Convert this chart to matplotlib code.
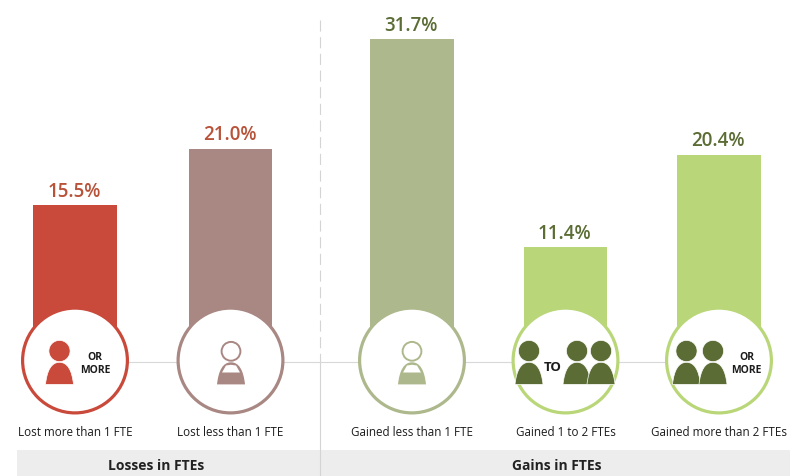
import matplotlib
matplotlib.use('Agg')
import matplotlib.pyplot as plt
from matplotlib.patches import Circle, PathPatch, Polygon, Rectangle
from matplotlib.path import Path

labels = ["Lost more than 1 FTE", "Lost less than 1 FTE", "Gained less than 1 FTE",
          "Gained 1 to 2 FTEs", "Gained more than 2 FTEs"]
values = [15.5, 21.0, 31.7, 11.4, 20.4]
value_text = ["15.5%", "21.0%", "31.7%", "11.4%", "20.4%"]
group_labels = ["Losses in FTEs", "Gains in FTEs"]

bar_colors = ["#c94a3b", "#a98884", "#adb88c", "#b9d778", "#b9d778"]
text_colors = ["#b8533a", "#b8533a", "#5b6d35", "#5b6d35", "#5b6d35"]
x_pos = [75, 230.5, 412, 565.5, 719]

DARK_GREEN = "#5b6d35"
W, H = 808, 476
Y0 = 364        # px height of value 0
PX_PER_PCT = 10.25

plt.rcParams['font.family'] = ['Open Sans', 'DejaVu Sans']
fig = plt.figure(figsize=(W / 100, H / 100), dpi=100)

# 막대용 축: x는 픽셀, y는 퍼센트 값
ax = fig.add_axes([0, 0, 1, 1], zorder=1)
ax.set_xlim(0, W)
ax.set_ylim((Y0 - H) / PX_PER_PCT, Y0 / PX_PER_PCT)
ax.axis('off')

# 장식용 축: 픽셀 좌표
px = fig.add_axes([0, 0, 1, 1], zorder=2)
px.set_xlim(0, W)
px.set_ylim(H, 0)
px.axis('off')
px.patch.set_alpha(0)

ax.bar(x_pos, values, width=83.5, color=bar_colors, linewidth=0)
for x, v, t, c in zip(x_pos, values, value_text, text_colors):
    ax.annotate(t, (x, v), xytext=(-0.5, 2.5), textcoords='offset points', ha='center', va='bottom',
                fontsize=13.5, fontweight='semibold', color=c)

# 하단 회색 띠, 구분선
px.add_patch(Rectangle((17, 450), 303, 26, fc="#ededed", ec='none'))
px.add_patch(Rectangle((320, 450), 470, 26, fc="#ededed", ec='none'))
px.plot([320.3, 320.3], [20, 362], color="#d4d4d4", lw=0.8, dashes=(10, 5))
px.plot([320.3, 320.3], [362, 476], color="#d4d4d4", lw=0.8)
px.plot([x_pos[0], x_pos[4]], [362, 362], color="#d8d8d8", lw=0.8)
px.text(156, 466, group_labels[0], ha='center', va='center', fontsize=10, fontweight='bold', color="#222222")
px.text(557, 466, group_labels[1], ha='center', va='center', fontsize=10, fontweight='bold', color="#222222")


def body_path(cx, top=362.3, bottom=384.4, half=14):
    verts = [(cx - half, bottom), (cx - half + 1.5, top + 8), (cx - 8, top), (cx, top),
             (cx + 8, top), (cx + half - 1.5, top + 8), (cx + half, bottom), (cx - half, bottom)]
    codes = [Path.MOVETO, Path.CURVE4, Path.CURVE4, Path.CURVE4,
             Path.CURVE4, Path.CURVE4, Path.CURVE4, Path.CLOSEPOLY]
    return Path(verts, codes)


def person(cx, color):
    px.add_patch(PathPatch(body_path(cx), fc=color, ec='white', lw=0.5, zorder=5))
    px.add_patch(Circle((cx, 351), 10.6, fc=color, ec='white', lw=0.5, zorder=6))


def hollow_person(cx, color):
    px.add_patch(PathPatch(body_path(cx), fc=color, ec='none', zorder=5))
    # 몸통 안쪽 흰 부분
    px.add_patch(Polygon([(cx - 9, 372.5), (cx - 5, 365.5), (cx, 364.8), (cx + 5, 365.5), (cx + 9, 372.5)],
                         fc='white', ec='none', zorder=5.5))
    px.add_patch(Circle((cx, 351.3), 9.4, fc='white', ec=color, lw=1.4, zorder=6))


for x, c, lab in zip(x_pos, bar_colors, labels):
    px.add_patch(Circle((x, 360.5), 52.4, fc='white', ec=c, lw=2.3, zorder=4))
    px.text(x, 432.5, lab, ha='center', va='center', fontsize=8.4, color="#1c1c1c", zorder=7)

# 아이콘
person(59.5, bar_colors[0])
px.text(95, 364, "OR\nMORE", ha='center', va='center', fontsize=7.5, fontweight='bold',
        color="#1c1c1c", linespacing=1.18, zorder=7)
hollow_person(231, bar_colors[1])
hollow_person(412, bar_colors[2])
person(529, DARK_GREEN)
person(577, DARK_GREEN)
person(601, DARK_GREEN)
px.text(553, 367.5, "TO", ha='center', va='center', fontsize=9.5, fontweight='bold', color="#1c1c1c", zorder=7)
person(686.5, DARK_GREEN)
person(713, DARK_GREEN)
px.text(746.5, 364, "OR\nMORE", ha='center', va='center', fontsize=7.5, fontweight='bold',
        color="#1c1c1c", linespacing=1.18, zorder=7)

fig.savefig("out.png", dpi=100)
